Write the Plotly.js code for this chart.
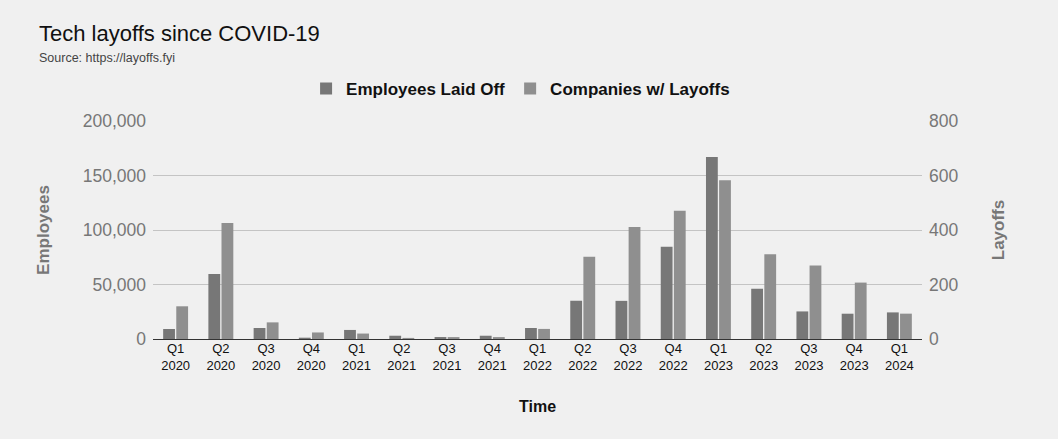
<!DOCTYPE html>
<html>
<head>
<meta charset="utf-8">
<script src="https://cdn.plot.ly/plotly-3.0.1.min.js"></script>
<style>html,body{margin:0;padding:0;background:#f0f0f0;}#chart{width:1058px;height:439px;}</style>
</head>
<body>
<div id="chart"></div>
<script>
const quarters = ["Q1<br>2020","Q2<br>2020","Q3<br>2020","Q4<br>2020","Q1<br>2021","Q2<br>2021","Q3<br>2021","Q4<br>2021","Q1<br>2022","Q2<br>2022","Q3<br>2022","Q4<br>2022","Q1<br>2023","Q2<br>2023","Q3<br>2023","Q4<br>2023","Q1<br>2024"];
const employeesLaidOff = [9200, 59600, 10100, 1200, 8300, 3000, 1800, 3000, 10100, 35100, 35000, 84700, 167000, 46100, 25300, 23200, 24400];
const companiesWithLayoffs = [120, 426, 61, 24, 20, 4, 7, 7, 37, 302, 411, 471, 583, 311, 270, 207, 93];

const font = "Liberation Sans, Arial, sans-serif";
const traces = [
  {type:"bar", name:"Employees Laid Off", x:quarters, y:employeesLaidOff, marker:{color:"#777777"}, yaxis:"y", offsetgroup:"a"},
  {type:"bar", name:"Companies w/ Layoffs", x:quarters, y:companiesWithLayoffs, marker:{color:"#8f8f8f"}, yaxis:"y2", offsetgroup:"b"}
];
const layout = {
  width:1058, height:439,
  paper_bgcolor:"#f0f0f0", plot_bgcolor:"#f0f0f0",
  font:{family:font},
  margin:{l:153, r:136, t:121, b:100},
  barmode:"group", bargap:0.42, bargroupgap:0.1,
  showlegend:true,
  legend:{orientation:"h", x:0.478, xanchor:"center", y:1.147, yanchor:"middle", font:{size:17, color:"#111", weight:"bold"}, bgcolor:"rgba(0,0,0,0)", traceorder:"normal"},
  xaxis:{type:"category", tickfont:{size:13, color:"#111"}, ticks:"", showgrid:false, title:{text:"Time", font:{size:16, color:"#111", weight:"bold"}, standoff:28}, automargin:false},
  yaxis:{range:[0,200000], tickvals:[0,50000,100000,150000,200000], ticktext:["0","50,000","100,000","150,000","200,000"], tickfont:{size:17.5, color:"#777"}, gridcolor:"#c4c4c4", zeroline:true, zerolinecolor:"#333", zerolinewidth:1, title:{text:"Employees", font:{size:17, color:"#777", weight:"bold"}, standoff:28}, ticklabelstandoff:6, automargin:false},
  yaxis2:{overlaying:"y", side:"right", range:[0,800], tickvals:[0,200,400,600,800], tickfont:{size:17.5, color:"#777"}, showgrid:false, zeroline:false, title:{text:"Layoffs", font:{size:17, color:"#777", weight:"bold"}, standoff:34}, ticklabelstandoff:6, automargin:false},
  annotations:[
    {xref:"paper", yref:"paper", x:(37-153)/769, y:(339-33)/218, xanchor:"left", yanchor:"middle", showarrow:false, text:"Tech layoffs since COVID-19", font:{size:22, color:"#111"}},
    {xref:"paper", yref:"paper", x:(37-153)/769, y:(339-58)/218, xanchor:"left", yanchor:"middle", showarrow:false, text:"Source: https://layoffs.fyi", font:{size:12.5, color:"#444"}}
  ]
};
Plotly.newPlot("chart", traces, layout, {displayModeBar:false, staticPlot:true});
</script>
</body>
</html>
